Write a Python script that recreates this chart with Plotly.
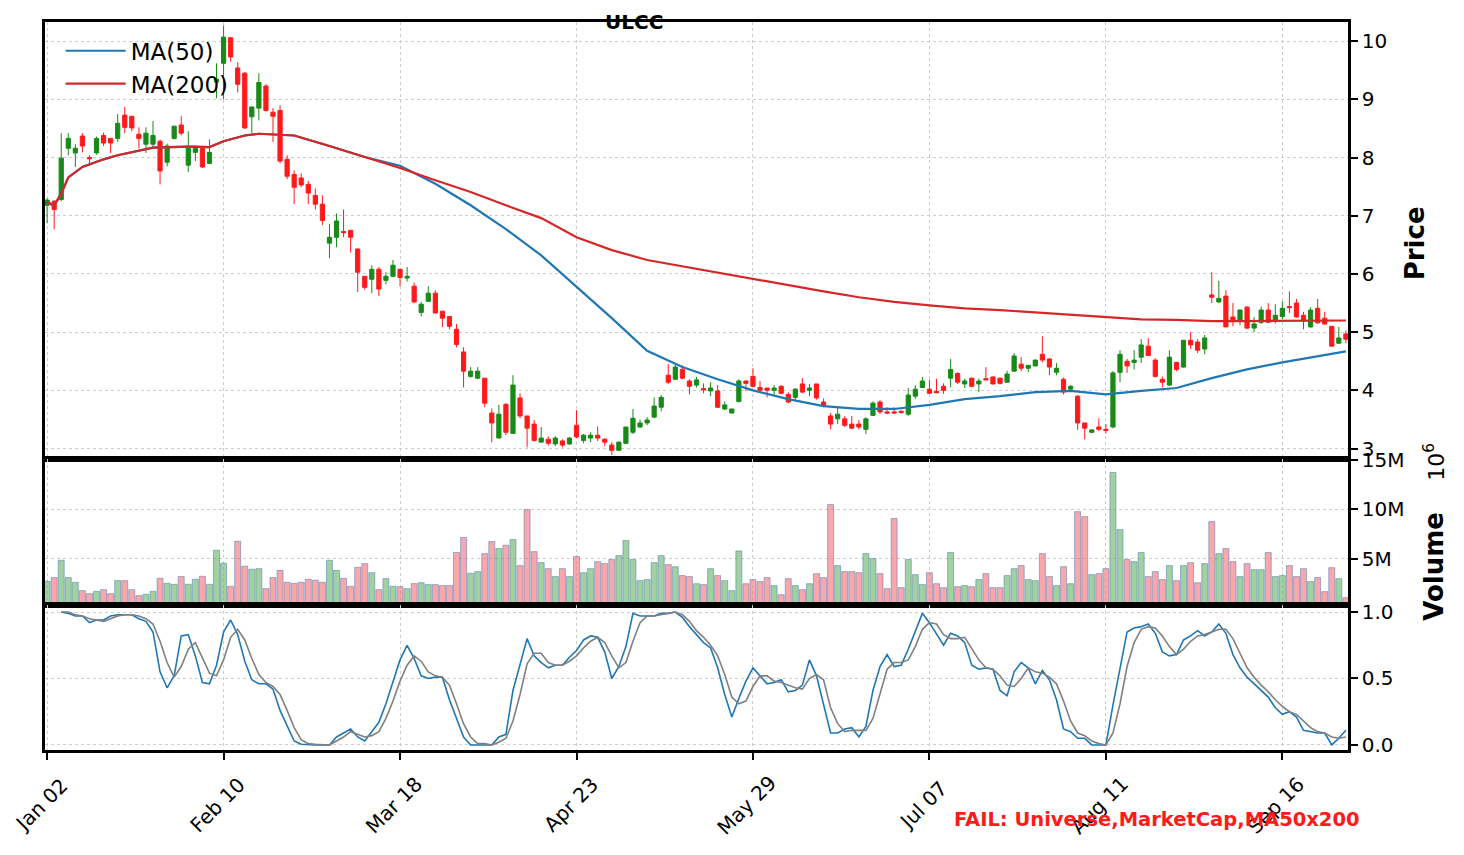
import plotly.graph_objects as go
from plotly.subplots import make_subplots

symbol = "ULCC"
status_text = "FAIL: Universe,MarketCap,MA50x200"

tick_pos = [0, 25, 50, 75, 100, 125, 150, 175]
tick_labels = ["Jan 02", "Feb 10", "Mar 18", "Apr 23", "May 29", "Jul 07", "Aug 11", "Sep 16"]

# daily candles (trading-day index 0..184)
opens = [
    7.18, 7.25, 7.28, 8.16, 8.08, 8.37, 8.00, 8.08, 8.38, 8.33,
    8.33, 8.73, 8.71, 8.40, 8.23, 8.23, 8.28, 7.92, 8.33, 8.56,
    7.87, 8.09, 8.16, 7.90, 9.30, 9.62, 10.06, 9.54, 9.45, 8.70,
    8.85, 9.23, 8.78, 8.81, 7.97, 7.71, 7.65, 7.54, 7.35, 7.20,
    6.53, 6.63, 6.73, 6.75, 6.43, 5.96, 5.91, 6.08, 5.89, 5.96,
    6.08, 5.93, 5.79, 5.34, 5.53, 5.67, 5.36, 5.27, 5.05, 4.66,
    4.24, 4.21, 4.21, 3.61, 3.18, 3.76, 3.26, 3.87, 3.56, 3.42,
    3.11, 3.16, 3.08, 3.13, 3.08, 3.40, 3.14, 3.18, 3.23, 3.16,
    3.06, 2.97, 3.09, 3.28, 3.37, 3.44, 3.54, 3.71, 4.26, 4.19,
    4.36, 4.16, 4.09, 4.03, 3.99, 3.99, 3.68, 3.61, 3.81, 4.16,
    4.24, 4.05, 4.04, 4.00, 4.07, 3.93, 3.88, 4.11, 4.00, 4.11,
    3.80, 3.56, 3.51, 3.51, 3.42, 3.42, 3.33, 3.57, 3.80, 3.63,
    3.63, 3.64, 3.59, 3.90, 4.05, 4.02, 3.98, 4.07, 4.21, 4.29,
    4.11, 4.21, 4.11, 4.20, 4.23, 4.21, 4.14, 4.33, 4.45, 4.38,
    4.42, 4.62, 4.54, 4.31, 4.19, 4.02, 3.90, 3.44, 3.28, 3.37,
    3.33, 3.37, 4.31, 4.50, 4.48, 4.57, 4.76, 4.52, 4.19, 4.09,
    4.48, 4.40, 4.86, 4.83, 4.71, 5.64, 5.52, 5.62, 5.26, 5.21,
    5.43, 5.07, 5.17, 5.38, 5.21, 5.27, 5.44, 5.50, 5.29, 5.09,
    5.41, 5.24, 5.10, 4.81, 4.97,
]
highs = [
    7.30, 7.27, 8.42, 8.42, 8.23, 8.42, 8.04, 8.36, 8.43, 8.33,
    8.75, 8.87, 8.71, 8.52, 8.52, 8.63, 8.31, 8.24, 8.54, 8.71,
    8.45, 8.21, 8.19, 8.31, 9.62, 10.27, 10.06, 9.64, 9.47, 8.87,
    9.45, 9.26, 8.85, 8.90, 8.04, 7.78, 7.73, 7.60, 7.47, 7.35,
    6.86, 7.04, 7.11, 6.75, 6.43, 5.96, 6.15, 6.12, 6.03, 6.24,
    6.08, 6.12, 5.85, 5.52, 5.79, 5.72, 5.36, 5.27, 5.14, 4.74,
    4.40, 4.40, 4.21, 3.69, 3.75, 3.78, 4.26, 3.95, 3.56, 3.49,
    3.37, 3.21, 3.21, 3.16, 3.20, 3.66, 3.25, 3.28, 3.38, 3.18,
    3.11, 3.12, 3.37, 3.68, 3.50, 3.54, 3.88, 3.92, 4.45, 4.47,
    4.43, 4.19, 4.23, 4.12, 4.14, 4.09, 3.81, 3.68, 4.19, 4.17,
    4.38, 4.16, 4.04, 4.09, 4.09, 3.97, 4.04, 4.21, 4.11, 4.11,
    3.86, 3.61, 3.71, 3.56, 3.56, 3.49, 3.54, 3.81, 3.83, 3.71,
    3.71, 3.66, 4.04, 4.09, 4.23, 4.18, 4.20, 4.12, 4.54, 4.31,
    4.20, 4.22, 4.20, 4.40, 4.24, 4.22, 4.34, 4.64, 4.57, 4.43,
    4.53, 4.93, 4.55, 4.47, 4.22, 4.09, 3.92, 3.44, 3.33, 3.52,
    3.42, 4.33, 4.69, 4.54, 4.69, 4.88, 4.90, 4.55, 4.24, 4.69,
    4.49, 4.86, 5.00, 4.88, 4.95, 6.03, 5.88, 5.72, 5.50, 5.39,
    5.45, 5.26, 5.44, 5.50, 5.48, 5.53, 5.70, 5.57, 5.35, 5.43,
    5.57, 5.35, 5.10, 5.09, 5.03,
]
lows = [
    6.87, 6.77, 7.25, 8.04, 7.84, 8.09, 7.86, 8.05, 8.20, 8.08,
    8.27, 8.42, 8.45, 8.16, 8.08, 8.18, 7.54, 7.85, 8.31, 8.38,
    7.75, 7.94, 7.82, 7.90, 9.02, 9.00, 9.65, 9.12, 8.49, 8.42,
    8.64, 8.79, 8.27, 7.90, 7.63, 7.20, 7.49, 7.20, 7.11, 6.84,
    6.27, 6.46, 6.63, 6.37, 5.69, 5.73, 5.67, 5.62, 5.82, 5.94,
    5.79, 5.87, 5.50, 5.27, 5.52, 5.32, 5.09, 5.05, 4.74, 4.05,
    4.22, 4.19, 3.71, 3.11, 3.18, 3.23, 3.25, 3.52, 3.02, 3.12,
    3.11, 3.05, 3.04, 3.02, 3.06, 3.18, 3.09, 3.11, 3.13, 3.04,
    2.89, 2.96, 3.08, 3.25, 3.36, 3.40, 3.52, 3.64, 4.11, 4.18,
    4.19, 3.93, 4.05, 3.95, 3.90, 3.70, 3.66, 3.61, 3.79, 3.99,
    4.05, 3.99, 3.88, 3.92, 3.93, 3.78, 3.83, 3.95, 3.90, 3.84,
    3.71, 3.33, 3.42, 3.37, 3.34, 3.33, 3.25, 3.56, 3.59, 3.59,
    3.60, 3.60, 3.56, 3.85, 4.04, 3.94, 3.95, 3.94, 4.05, 4.11,
    4.04, 4.06, 3.97, 4.18, 4.10, 4.10, 4.13, 4.32, 4.33, 4.31,
    4.41, 4.48, 4.26, 4.26, 3.93, 4.00, 3.32, 3.16, 3.26, 3.30,
    3.26, 3.35, 4.14, 4.30, 4.36, 4.47, 4.59, 4.22, 4.05, 4.07,
    4.33, 4.39, 4.71, 4.64, 4.62, 5.50, 5.50, 5.09, 5.10, 5.12,
    5.05, 5.00, 5.14, 5.16, 5.15, 5.22, 5.33, 5.25, 5.05, 5.08,
    5.15, 5.13, 4.75, 4.80, 4.81,
]
closes = [
    7.27, 7.11, 7.99, 8.33, 8.16, 8.20, 7.98, 8.33, 8.25, 8.25,
    8.59, 8.52, 8.51, 8.33, 8.42, 8.38, 7.77, 8.20, 8.54, 8.42,
    8.16, 8.16, 7.84, 8.09, 9.35, 10.07, 9.73, 9.26, 8.51, 8.87,
    9.29, 8.81, 8.71, 7.94, 7.68, 7.49, 7.53, 7.39, 7.20, 6.92,
    6.63, 6.91, 6.71, 6.63, 6.03, 5.77, 6.08, 5.74, 5.96, 6.15,
    5.94, 5.96, 5.52, 5.48, 5.67, 5.33, 5.24, 5.10, 4.79, 4.33,
    4.33, 4.33, 3.78, 3.44, 3.59, 3.28, 4.09, 3.56, 3.35, 3.14,
    3.18, 3.09, 3.18, 3.06, 3.18, 3.20, 3.23, 3.23, 3.18, 3.11,
    2.97, 3.11, 3.37, 3.52, 3.44, 3.49, 3.73, 3.88, 4.14, 4.40,
    4.21, 4.07, 4.18, 4.01, 4.04, 3.71, 3.75, 3.68, 4.16, 4.12,
    4.07, 4.00, 4.00, 4.04, 3.95, 3.80, 4.02, 3.97, 4.04, 3.87,
    3.73, 3.42, 3.59, 3.40, 3.35, 3.37, 3.51, 3.78, 3.63, 3.61,
    3.61, 3.62, 3.92, 4.02, 4.16, 3.95, 3.96, 4.00, 4.36, 4.14,
    4.16, 4.07, 4.16, 4.18, 4.11, 4.12, 4.28, 4.59, 4.38, 4.43,
    4.52, 4.52, 4.40, 4.38, 3.97, 4.07, 3.44, 3.35, 3.32, 3.33,
    3.31, 4.30, 4.62, 4.42, 4.52, 4.78, 4.60, 4.24, 4.14, 4.57,
    4.36, 4.86, 4.78, 4.69, 4.90, 5.60, 5.58, 5.09, 5.19, 5.38,
    5.07, 5.14, 5.38, 5.17, 5.29, 5.41, 5.42, 5.26, 5.19, 5.38,
    5.16, 5.14, 4.76, 4.90, 4.88,
]

# volume in millions of shares
volume_m = [
    2.74, 3.12, 4.87, 3.12, 2.64, 1.80, 1.49, 1.73, 1.90, 1.49,
    2.81, 2.81, 1.90, 1.29, 1.43, 1.73, 3.05, 2.54, 2.44, 3.22,
    2.44, 2.95, 3.25, 2.44, 5.88, 4.57, 2.24, 6.79, 4.26, 3.96,
    4.02, 2.00, 3.12, 3.85, 2.64, 2.54, 2.64, 2.95, 2.85, 2.64,
    4.87, 3.85, 3.05, 2.24, 4.16, 4.53, 3.61, 1.90, 3.01, 2.24,
    2.20, 2.00, 2.51, 2.60, 2.41, 2.41, 2.31, 2.31, 5.65, 7.17,
    3.56, 3.72, 5.54, 6.76, 6.05, 6.39, 6.96, 4.33, 9.99, 5.74,
    4.63, 4.02, 3.22, 4.02, 3.22, 5.24, 3.61, 4.02, 4.73, 4.53,
    4.94, 5.34, 6.86, 4.94, 2.81, 2.92, 4.63, 5.34, 4.43, 4.22,
    3.32, 3.22, 2.50, 2.41, 4.02, 3.32, 2.81, 1.80, 5.81, 2.50,
    2.92, 2.71, 3.12, 2.31, 1.39, 3.01, 2.31, 1.90, 2.50, 3.52,
    3.12, 10.50, 4.33, 3.72, 3.72, 3.61, 5.54, 5.04, 3.52, 2.00,
    9.09, 2.10, 4.94, 3.42, 2.41, 3.61, 2.50, 2.10, 5.65, 2.20,
    2.31, 2.20, 2.92, 3.52, 2.10, 2.10, 3.32, 4.02, 4.33, 2.92,
    2.81, 5.54, 3.22, 2.31, 4.22, 2.50, 9.78, 9.28, 3.42, 3.52,
    4.02, 13.74, 7.97, 4.94, 4.73, 5.65, 3.22, 3.72, 2.92, 4.33,
    2.81, 4.33, 4.63, 2.60, 4.53, 8.78, 5.54, 6.05, 4.73, 3.22,
    4.53, 3.92, 3.92, 5.65, 3.22, 3.32, 4.33, 3.22, 4.02, 2.71,
    3.12, 1.70, 4.12, 3.01, 1.09,
]

# moving averages, read at sampled candle positions
ma_x = [0, 1, 2, 3, 5, 8, 10, 15, 20, 23, 25, 28, 30, 35, 40, 45, 50, 55, 60, 65,
        70, 75, 80, 85, 90, 95, 100, 105, 110, 115, 120, 125, 130, 135, 140, 145,
        150, 155, 160, 165, 170, 175, 180, 184]
ma200 = [7.23, 7.18, 7.38, 7.66, 7.84, 7.97, 8.04, 8.17, 8.19, 8.18, 8.28, 8.38, 8.41,
         8.38, 8.20, 8.01, 7.82, 7.61, 7.41, 7.18, 6.96, 6.63, 6.41, 6.24, 6.13, 6.03,
         5.91, 5.81, 5.70, 5.60, 5.52, 5.46, 5.41, 5.38, 5.34, 5.29, 5.26, 5.22, 5.21,
         5.19, 5.19, 5.19, 5.20, 5.20]
ma50 = [7.23, 7.18, 7.38, 7.66, 7.84, 7.97, 8.04, 8.17, 8.19, 8.18, 8.28, 8.38, 8.41,
        8.38, 8.20, 8.01, 7.86, 7.55, 7.18, 6.77, 6.32, 5.78, 5.24, 4.68, 4.40, 4.19,
        4.00, 3.85, 3.73, 3.68, 3.68, 3.75, 3.85, 3.90, 3.97, 3.99, 3.93, 3.99, 4.04,
        4.21, 4.36, 4.48, 4.59, 4.67]

# stochastic oscillator (%K blue, %D grey), starts at the third candle
stoch_k = [
    None, None, 1.00, 0.99, 0.97, 0.97, 0.92, 0.94, 0.94, 0.97,
    0.98, 0.98, 0.98, 0.95, 0.93, 0.85, 0.55, 0.43, 0.52, 0.82,
    0.83, 0.67, 0.47, 0.46, 0.60, 0.85, 0.94, 0.83, 0.63, 0.49,
    0.46, 0.46, 0.42, 0.26, 0.14, 0.03, 0.005, 0.0, 0.0, 0.0,
    0.0, 0.06, 0.09, 0.12, 0.06, 0.03, 0.10, 0.17, 0.31, 0.48,
    0.64, 0.75, 0.65, 0.52, 0.50, 0.51, 0.51, 0.34, 0.20, 0.06,
    0.0, 0.0, 0.0, 0.0, 0.06, 0.08, 0.41, 0.60, 0.80, 0.67,
    0.62, 0.58, 0.60, 0.60, 0.66, 0.71, 0.79, 0.82, 0.81, 0.70,
    0.50, 0.59, 0.74, 0.99, 0.97, 0.97, 0.97, 0.99, 0.99, 1.00,
    0.96, 0.89, 0.83, 0.77, 0.73, 0.58, 0.38, 0.21, 0.35, 0.48,
    0.58, 0.52, 0.46, 0.47, 0.49, 0.40, 0.41, 0.45, 0.64, 0.52,
    0.31, 0.09, 0.09, 0.12, 0.13, 0.06, 0.14, 0.41, 0.59, 0.68,
    0.59, 0.60, 0.72, 0.86, 0.99, 0.92, 0.83, 0.75, 0.84, 0.82,
    0.77, 0.60, 0.57, 0.58, 0.57, 0.41, 0.37, 0.55, 0.62, 0.58,
    0.46, 0.56, 0.49, 0.34, 0.12, 0.10, 0.05, 0.05, 0.0, 0.0,
    0.0, 0.30, 0.58, 0.85, 0.88, 0.89, 0.91, 0.84, 0.70, 0.67,
    0.68, 0.79, 0.82, 0.86, 0.82, 0.85, 0.91, 0.84, 0.68, 0.58,
    0.51, 0.46, 0.41, 0.36, 0.28, 0.23, 0.25, 0.21, 0.11, 0.10,
    0.09, 0.09, 0.0, 0.05, 0.11,
]
stoch_d = [
    None, None, 1.00, 1.00, 0.98, 0.97, 0.95, 0.94, 0.93, 0.95,
    0.97, 0.98, 0.98, 0.97, 0.95, 0.91, 0.78, 0.62, 0.51, 0.59,
    0.72, 0.77, 0.66, 0.54, 0.52, 0.64, 0.81, 0.87, 0.79, 0.65,
    0.53, 0.47, 0.44, 0.38, 0.26, 0.13, 0.04, 0.01, 0.005, 0.0,
    0.0, 0.03, 0.06, 0.10, 0.08, 0.06, 0.07, 0.10, 0.20, 0.33,
    0.48, 0.60, 0.67, 0.63, 0.55, 0.52, 0.51, 0.45, 0.31, 0.16,
    0.06, 0.01, 0.01, 0.0, 0.02, 0.05, 0.18, 0.38, 0.61, 0.69,
    0.69, 0.62, 0.60, 0.60, 0.63, 0.67, 0.73, 0.78, 0.81, 0.77,
    0.67, 0.58, 0.62, 0.78, 0.92, 0.97, 0.97, 0.98, 0.99, 1.00,
    0.98, 0.93, 0.86, 0.81, 0.75, 0.67, 0.53, 0.36, 0.31, 0.33,
    0.44, 0.52, 0.52, 0.48, 0.47, 0.45, 0.43, 0.42, 0.50, 0.53,
    0.49, 0.28, 0.16, 0.10, 0.11, 0.11, 0.11, 0.20, 0.38, 0.57,
    0.62, 0.62, 0.64, 0.74, 0.87, 0.92, 0.91, 0.83, 0.80, 0.80,
    0.81, 0.73, 0.64, 0.58, 0.57, 0.52, 0.45, 0.44, 0.50, 0.58,
    0.55, 0.54, 0.51, 0.46, 0.33, 0.18, 0.09, 0.07, 0.03, 0.01,
    0.0, 0.09, 0.31, 0.59, 0.77, 0.87, 0.89, 0.88, 0.82, 0.74,
    0.68, 0.72, 0.78, 0.82, 0.83, 0.85, 0.87, 0.87, 0.80, 0.69,
    0.58, 0.51, 0.45, 0.40, 0.34, 0.29, 0.25, 0.23, 0.18, 0.13,
    0.10, 0.09, 0.06, 0.05, 0.06,
]

idx = list(range(len(closes)))

up_color = "#178a17"
down_color = "#ff1a1a"
vol_colors = ["rgba(110,185,110,0.65)" if c >= o else "rgba(245,120,128,0.65)"
              for o, c in zip(opens, closes)]

fig = make_subplots(rows=3, cols=1, shared_xaxes=True, vertical_spacing=0,
                    row_heights=[0.6003, 0.2005, 0.1992])

fig.add_trace(go.Candlestick(
    x=idx, open=opens, high=highs, low=lows, close=closes,
    increasing=dict(line=dict(color=up_color, width=1), fillcolor=up_color),
    decreasing=dict(line=dict(color=down_color, width=1), fillcolor=down_color),
    whiskerwidth=0, showlegend=False, hoverinfo="skip",
), row=1, col=1)

fig.add_trace(go.Scatter(x=ma_x, y=ma50, mode="lines", name="MA(50)",
                         line=dict(color="#1f77b4", width=2.2)), row=1, col=1)
fig.add_trace(go.Scatter(x=ma_x, y=ma200, mode="lines", name="MA(200)",
                         line=dict(color="#d62728", width=2.2)), row=1, col=1)

fig.add_trace(go.Bar(
    x=idx, y=volume_m, width=0.85, showlegend=False,
    marker=dict(color=vol_colors, line=dict(color="rgba(70,120,180,0.5)", width=1)),
), row=2, col=1)

fig.add_trace(go.Scatter(x=idx, y=stoch_k, mode="lines", showlegend=False,
                         line=dict(color="#1f77b4", width=1.6)), row=3, col=1)
fig.add_trace(go.Scatter(x=idx, y=stoch_d, mode="lines", showlegend=False,
                         line=dict(color="#808080", width=1.6)), row=3, col=1)

grid = dict(showgrid=True, gridcolor="#cccccc", griddash="dot", gridwidth=1,
            showline=True, linecolor="black", linewidth=2.5, mirror=True, zeroline=False)

fig.update_xaxes(range=[-0.3, 184.3], tickvals=tick_pos, ticktext=tick_labels,
                 showticklabels=False, **grid)
fig.update_xaxes(ticks="", row=1, col=1)
fig.update_xaxes(ticks="", row=2, col=1)
fig.update_xaxes(ticks="outside", ticklen=7, tickwidth=1.5, tickcolor="black", row=3, col=1)

yopts = dict(side="right", ticks="outside", ticklen=7, tickwidth=1.5, tickcolor="black",
             tickfont=dict(size=20, color="black"), **grid)
fig.update_yaxes(range=[2.82, 10.33], tickvals=list(range(3, 11)), row=1, col=1, **yopts)
fig.update_yaxes(range=[0.35, 15.1], tickvals=[5, 10, 15], ticktext=["5M", "10M", "15M"],
                 row=2, col=1, **yopts)
fig.update_yaxes(range=[-0.038, 1.053], tickvals=[0, 0.5, 1.0], tickformat=".1f",
                 row=3, col=1, **yopts)

# rotated date labels, centred a little left of each tick
date_notes = [
    dict(text=lab, x=pos, xref="x3", y=-0.0755, yref="paper", xshift=-6,
         textangle=-45, xanchor="center", yanchor="middle", showarrow=False,
         font=dict(size=20))
    for pos, lab in zip(tick_pos, tick_labels)
]

fig.update_layout(
    width=1456, height=847,
    margin=dict(l=37, r=116, t=14, b=105, autoexpand=False),
    paper_bgcolor="white", plot_bgcolor="white",
    font=dict(family="DejaVu Sans", color="black"),
    boxgap=0.15,
    xaxis_rangeslider_visible=False,
    legend=dict(x=0.012, y=0.99, xanchor="left", yanchor="top", itemwidth=60,
                bgcolor="rgba(255,255,255,0)", font=dict(size=23)),
    annotations=date_notes + [
        dict(text="<b>%s</b>" % symbol, x=0.452, y=1.0, xref="paper", yref="paper",
             xanchor="center", yanchor="middle", showarrow=False, font=dict(size=20)),
        dict(text="<b>Price</b>", x=1.0514, y=0.696, xref="paper", yref="paper",
             xanchor="center", yanchor="middle",
             textangle=-90, showarrow=False, font=dict(size=26)),
        dict(text="<b>Volume</b>", x=1.066, y=0.253, xref="paper", yref="paper",
             xanchor="center", yanchor="middle",
             textangle=-90, showarrow=False, font=dict(size=26)),
        dict(text="10<sup>6</sup>", x=1.066, y=0.396, xref="paper", yref="paper",
             xanchor="center", yanchor="middle",
             textangle=-90, showarrow=False, font=dict(size=22)),
        dict(text="<b>%s</b>" % status_text, x=1.0108, y=-0.096, xref="paper", yref="paper",
             xanchor="right", yanchor="middle", showarrow=False,
             font=dict(size=19.5, color="#ff1a1a")),
    ],
)

fig.write_html("out.html")
